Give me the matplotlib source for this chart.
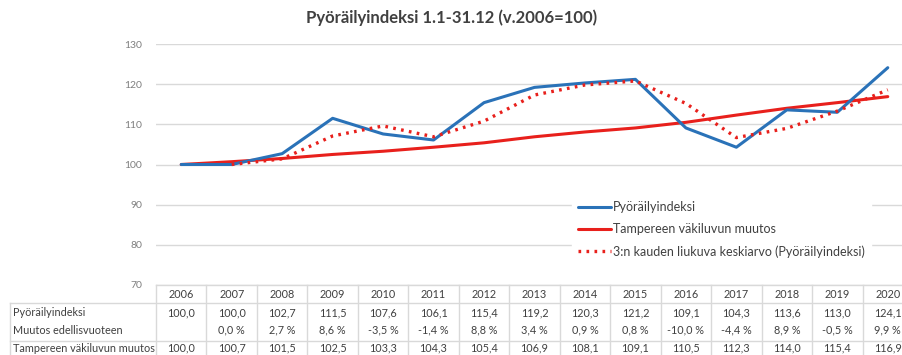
import matplotlib
matplotlib.use("Agg")
import matplotlib.pyplot as plt
import matplotlib.transforms as mtransforms

plt.rcParams['font.family'] = ['Lato', 'DejaVu Sans']

years = [2006, 2007, 2008, 2009, 2010, 2011, 2012, 2013, 2014, 2015, 2016, 2017, 2018, 2019, 2020]
pyorailyindeksi = [100.0, 100.0, 102.7, 111.5, 107.6, 106.1, 115.4, 119.2, 120.3, 121.2, 109.1, 104.3, 113.6, 113.0, 124.1]
muutos = [None, 0.0, 2.7, 8.6, -3.5, -1.4, 8.8, 3.4, 0.9, 0.8, -10.0, -4.4, 8.9, -0.5, 9.9]
vakiluku = [100.0, 100.7, 101.5, 102.5, 103.3, 104.3, 105.4, 106.9, 108.1, 109.1, 110.5, 112.3, 114.0, 115.4, 116.9]
# moving average trendline as drawn (starts at 2007)
ma_years = [2007, 2008, 2009, 2010, 2011, 2012, 2013, 2014, 2015, 2016, 2017, 2018, 2019, 2020]
liukuva = [100.0, 101.4, 107.1, 109.6, 106.9, 110.8, 117.3, 119.8, 120.8, 115.2, 106.7, 109.0, 113.3, 118.6]

row_labels = ['Pyöräilyindeksi', 'Muutos edellisvuoteen', 'Tampereen väkiluvun muutos']

W, H = 903, 355
fig = plt.figure(figsize=(W / 100, H / 100), dpi=100)


def fy(py):
    # pixel row (from top) -> figure fraction
    return 1 - py / H


# plot area runs a little past the right edge (reference is cropped there)
ax_left, ax_right = 156, 913
ax_top, ax_bot = 44, 285
ax = fig.add_axes([ax_left / W, fy(ax_bot), (ax_right - ax_left) / W, (ax_bot - ax_top) / H])

blue = '#2a72b8'
red = '#e8201c'
text_col = '#404040'
grid_col = '#d9d9d9'

ax.plot(years, vakiluku, color=red, lw=2.2, solid_capstyle='round', zorder=3,
        label='Tampereen väkiluvun muutos')
ax.plot(years, pyorailyindeksi, color=blue, lw=2.2, solid_capstyle='round', zorder=4,
        label='Pyöräilyindeksi')
ax.plot(ma_years, liukuva, color=red, lw=2.4, linestyle=(0, (0.8, 1.6)), zorder=5,
        label='3:n kauden liukuva keskiarvo (Pyöräilyindeksi)')

ax.set_xlim(years[0] - 0.5, years[-1] + 0.5)
ax.set_ylim(70, 130)
ax.set_yticks(range(70, 131, 10))
ax.tick_params(axis='y', length=0, pad=10, labelsize=7.5, labelcolor='#7f7f7f')
ax.set_xticks([])
for s in ax.spines.values():
    s.set_visible(False)
ax.yaxis.grid(True, color=grid_col, lw=1)
ax.set_axisbelow(True)

# legend: white box without border, covering the gridlines
handles, labels = ax.get_legend_handles_labels()
order = [1, 0, 2]
leg = fig.legend([handles[i] for i in order], [labels[i] for i in order],
                 loc='upper left', bbox_to_anchor=(572 / W, fy(195)),
                 frameon=True, facecolor='white', edgecolor='white', framealpha=1,
                 fontsize=9, handlelength=2.6, handletextpad=0.15,
                 labelspacing=0.8, borderpad=0.5, borderaxespad=0)
leg.get_frame().set_boxstyle('square', pad=0)
for t in leg.get_texts():
    t.set_color(text_col)

fig.text(0.5, fy(18), 'Pyöräilyindeksi 1.1-31.12 (v.2006=100)', ha='center', va='center',
         fontsize=12, fontweight='bold', color=text_col)

# data table under the plot
trans = mtransforms.blended_transform_factory(ax.transData, fig.transFigure)
line_kw = dict(color=grid_col, lw=1, clip_on=False)

y_header_top, y_header_bot, y_sep, y_bottom = 285, 303, 341, 360
x_label_left = 10 / W

# horizontal lines
fig.add_artist(plt.Line2D([ax_left / W, 1.02], [fy(y_header_top)] * 2, **line_kw))
fig.add_artist(plt.Line2D([x_label_left, 1.02], [fy(y_header_bot)] * 2, **line_kw))
fig.add_artist(plt.Line2D([x_label_left, 1.02], [fy(y_sep)] * 2, **line_kw))
fig.add_artist(plt.Line2D([x_label_left, x_label_left], [fy(y_header_bot), fy(y_bottom)], **line_kw))
# vertical column borders
for i in range(len(years) + 1):
    xb = years[0] - 0.5 + i
    ax.plot([xb, xb], [fy(y_header_top), fy(y_bottom)], transform=trans, **line_kw)

row_y = [313, 330, 348]
for lbl, yy in zip(row_labels, row_y):
    fig.text(13 / W, fy(yy), lbl, ha='left', va='center', fontsize=7.8, color=text_col)


def fmt(v):
    return f"{v:.1f}".replace('.', ',')


for i, yr in enumerate(years):
    ax.text(yr, fy(294), str(yr), transform=trans, ha='center', va='center',
            fontsize=7.8, color=text_col)
    ax.text(yr, fy(row_y[0]), fmt(pyorailyindeksi[i]), transform=trans, ha='center',
            va='center', fontsize=7.8, color=text_col)
    if muutos[i] is not None:
        ax.text(yr, fy(row_y[1]), fmt(muutos[i]) + ' %', transform=trans, ha='center',
                va='center', fontsize=7.8, color=text_col)
    ax.text(yr, fy(row_y[2]), fmt(vakiluku[i]), transform=trans, ha='center',
            va='center', fontsize=7.8, color=text_col)

fig.savefig('out.png', dpi=100)
